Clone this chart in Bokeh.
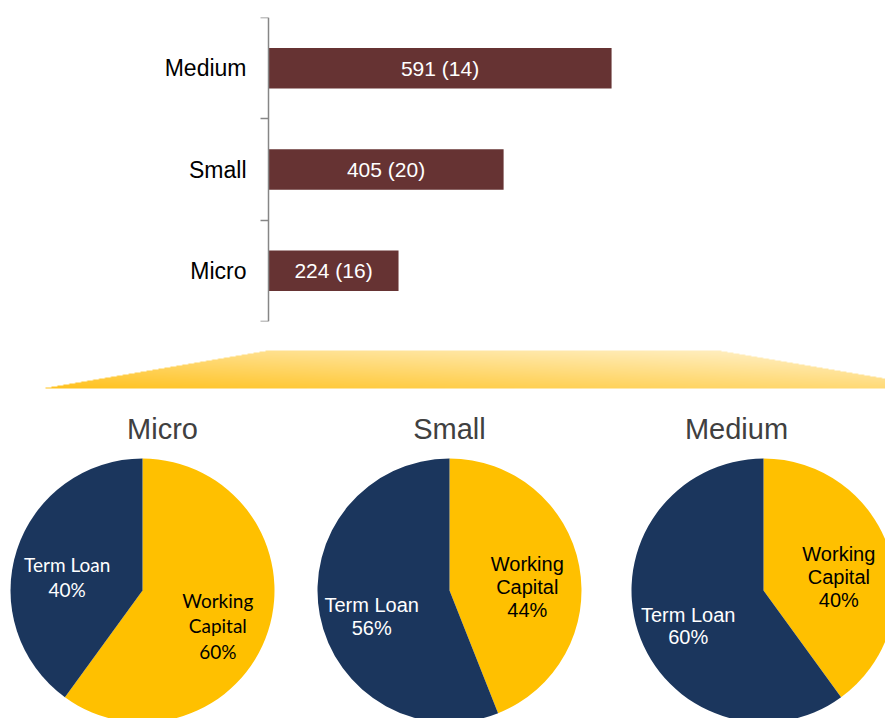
import numpy as np
from bokeh.plotting import figure
from bokeh.models import Range1d, FixedTicker, ColumnDataSource
from bokeh.layouts import column
from bokeh.core.properties import value
from bokeh.embed import file_html
from bokeh.resources import INLINE

# ---------------- data ----------------
categories = ["Micro", "Small", "Medium"]
loan_counts = [224, 405, 591]
firm_counts = [16, 20, 14]

pie_titles = ["Micro", "Small", "Medium"]
working_capital_pct = [60, 44, 40]
term_loan_pct = [40, 56, 60]

# ---------------- styles ----------------
BAR_COLOR = "#663333"
AXIS_COLOR = "#868686"
NAVY = "#1B365D"
GOLD = "#FFC000"
FONT = "Liberation Sans"

W_PAGE = 885
SCALE = 0.5805      # px per loan
AXIS_X = 268        # px from left where the value axis starts

# ---------------- top: bar chart ----------------
p1 = figure(width=W_PAGE, height=340,
            x_range=Range1d(-AXIS_X / SCALE, (W_PAGE - AXIS_X) / SCALE),
            y_range=Range1d(0, 3),
            output_backend="svg", toolbar_location=None, x_axis_location=None,
            y_axis_location="left",
            min_border_left=0, min_border_right=0, min_border_top=17, min_border_bottom=19)
p1.outline_line_color = None
p1.xgrid.visible = False
p1.ygrid.visible = False
p1.background_fill_color = "white"
p1.border_fill_color = "white"

ypos = [i + 0.5 for i in range(len(categories))]
ax = p1.yaxis[0]
ax.fixed_location = 0
ax.ticker = FixedTicker(ticks=ypos, minor_ticks=list(range(len(categories) + 1)))
ax.major_label_overrides = {y: c for y, c in zip(ypos, categories)}
ax.axis_line_color = AXIS_COLOR
ax.axis_line_width = 1.5
ax.major_tick_line_color = None
ax.major_tick_out = 0
ax.major_tick_in = 0
ax.minor_tick_line_color = AXIS_COLOR
ax.minor_tick_line_width = 1.5
ax.minor_tick_out = 8
ax.minor_tick_in = 0
ax.major_label_standoff = 14
ax.major_label_text_font = FONT
ax.major_label_text_font_size = "23px"
ax.major_label_text_color = "black"

bar_src = ColumnDataSource(dict(
    y=ypos, right=loan_counts,
    xm=[v / 2 for v in loan_counts],
    label=[f"{n} ({f})" for n, f in zip(loan_counts, firm_counts)],
))
p1.hbar(y="y", left=0, right="right", height=0.4, source=bar_src,
        fill_color=BAR_COLOR, line_color=None)
p1.text(x="xm", y="y", text="label", source=bar_src, text_color="white",
        text_font=value(FONT), text_font_size="21px",
        text_align="center", text_baseline="middle")

# ---------------- bottom: trapezoid + pies ----------------
# data units == pixels; y measured upward from page bottom (718 - page_y)
p2 = figure(width=W_PAGE, height=378, x_range=Range1d(0, W_PAGE), y_range=Range1d(0, 378),
            output_backend="svg", toolbar_location=None,
            x_axis_location=None, y_axis_location=None, min_border=0)
p2.outline_line_color = None
p2.xgrid.visible = False
p2.ygrid.visible = False
p2.background_fill_color = "white"
p2.border_fill_color = "white"

# gradient trapezoid as an RGBA image
tx0, tx1 = 42, 885
t_bottom, t_top = 330, 368  # data y
H = t_top - t_bottom
W = tx1 - tx0
xs = np.arange(W) + tx0 + 0.5
ys = np.arange(H) + t_bottom + 0.5  # row 0 is bottom
X, Y = np.meshgrid(xs, ys)
frac_up = (Y - t_bottom) / H
x_left = 42 + frac_up * 226
x_right = 944 - frac_up * 226
alpha = np.clip(X - x_left + 0.5, 0, 1) * np.clip(x_right - X + 0.5, 0, 1)
t = 0.5 * (X - 42) / (885 - 42) + 0.5 * frac_up
c0 = np.array([255, 194, 30])
c1 = np.array([255, 243, 208])
img = np.zeros((H, W, 4), dtype=np.uint8)
for k in range(3):
    img[:, :, k] = (c0[k] + (c1[k] - c0[k]) * t).astype(np.uint8)
img[:, :, 3] = (alpha * 255).astype(np.uint8)
p2.image_rgba(image=[img.view(np.uint32).reshape(H, W)], x=tx0, y=t_bottom, dw=W, dh=H)

pie_cx = [142, 449, 763]
pie_cy = 128
R = 132
title_y = 290
title_x0, title_dx = 162, 287

for i, name in enumerate(pie_titles):
    cx = pie_cx[i]
    wc = working_capital_pct[i] / 100
    tl = term_loan_pct[i] / 100
    top = np.pi / 2
    p2.wedge(x=cx, y=pie_cy, radius=R, start_angle=top - wc * 2 * np.pi, end_angle=top,
             fill_color=GOLD, line_color=None)
    p2.wedge(x=cx, y=pie_cy, radius=R, start_angle=top, end_angle=top + tl * 2 * np.pi,
             fill_color=NAVY, line_color=None)
    p2.text(x=[title_x0 + i * title_dx], y=[title_y], text=[name], text_color="#404040",
            text_font=value(FONT), text_font_size="29px",
            text_align="center", text_baseline="middle")

    a_wc = top - wc * np.pi
    a_tl = top + tl * np.pi
    rl = 0.6 * R
    if i == 0:
        lfont, lsize, lh = "Lato", "19px", 1.12
    else:
        lfont, lsize, lh = FONT, "20px", 1.04
    p2.text(x=[cx + rl * np.cos(a_wc)], y=[pie_cy + rl * np.sin(a_wc) - 11],
            text=[f"Working\nCapital\n{working_capital_pct[i]}%"], text_color="black",
            text_font=value(lfont), text_font_size=lsize, text_line_height=lh,
            text_align="center", text_baseline="middle")
    p2.text(x=[cx + rl * np.cos(a_tl)], y=[pie_cy + rl * np.sin(a_tl) - 11],
            text=[f"Term Loan\n{term_loan_pct[i]}%"], text_color="white",
            text_font=value(lfont), text_font_size=lsize, text_line_height=lh,
            text_align="center", text_baseline="middle")

layout = column(p1, p2, spacing=0)
open("out.html", "w").write(file_html(layout, INLINE))
